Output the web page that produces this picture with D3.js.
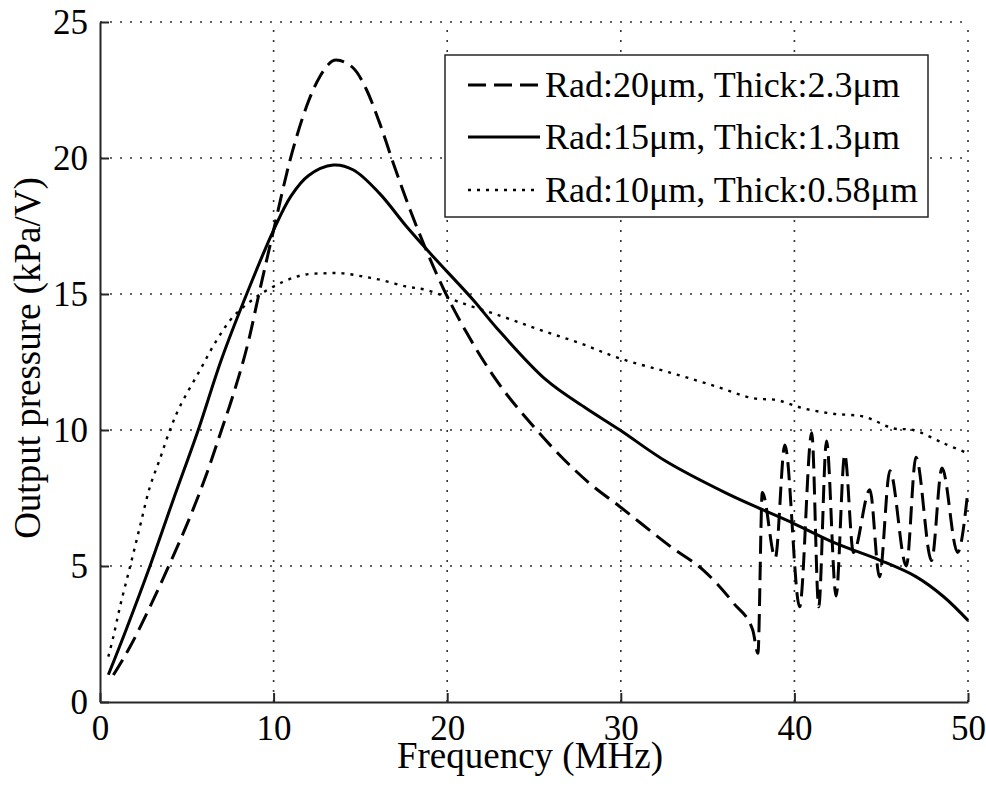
<!DOCTYPE html>
<html>
<head>
<meta charset="utf-8">
<script src="https://cdn.jsdelivr.net/npm/d3@7"></script>
<style>
  body { margin: 0; background: #fff; }
  text { font-family: "Liberation Serif", "Times New Roman", serif; fill: #000; }
</style>
</head>
<body>
<div id="chart"></div>
<script>
// values (frequency in MHz, pressure in kPa/V)
var freqDash = [0.77, 1.73, 2.88, 4.03, 4.99, 6.15, 7.0, 7.6, 8.64, 9.12, 10.0, 10.94, 11.9, 12.67, 13.6, 14.6, 15.36, 16.1, 16.9, 17.86, 18.8, 19.78, 21.1, 22.65, 25.15, 28.2, 29.95, 33.0, 34.75, 36.5, 37.6, 37.9, 38.15, 38.9, 39.45, 40.3, 41.0, 41.4, 41.85, 42.4, 42.9, 43.4, 44.35, 44.9, 45.5, 46.45, 47.0, 47.9, 48.5, 49.4, 50.0];
var valDash  = [0.99, 2.03, 3.5, 5.1, 6.5, 8.4, 10.0, 11.15, 13.5, 14.9, 17.35, 19.9, 21.9, 23.0, 23.6, 23.3, 22.5, 21.3, 19.8, 18.1, 16.6, 15.2, 13.6, 12.0, 10.0, 8.04, 7.18, 5.65, 4.85, 3.63, 2.65, 1.79, 7.7, 5.3, 9.45, 3.5, 9.9, 3.5, 9.6, 3.9, 9.1, 5.5, 7.8, 4.6, 8.5, 5.0, 9.0, 5.2, 8.6, 5.5, 7.8];

var freqSolid = [0.48, 1.5, 2.88, 4.2, 5.66, 7.0, 8.45, 10.0, 11.0, 12.0, 13.44, 14.6, 16.1, 17.67, 19.2, 21.5, 22.85, 25.7, 28.0, 29.95, 32.6, 36.1, 38.2, 39.94, 42.4, 44.9, 47.0, 48.6, 50.0];
var valSolid  = [1.0, 2.65, 5.0, 7.4, 10.0, 12.6, 15.0, 17.35, 18.6, 19.35, 19.74, 19.56, 18.7, 17.47, 16.37, 14.78, 13.75, 11.84, 10.8, 10.0, 8.85, 7.67, 7.06, 6.57, 5.83, 5.22, 4.61, 3.87, 3.0];

var freqDot = [0.48, 0.77, 1.15, 1.73, 2.3, 2.88, 3.46, 4.03, 4.6, 5.76, 6.72, 7.68, 9.03, 10.56, 11.7, 12.87, 14.0, 15.17, 16.3, 17.67, 18.8, 20.7, 23.2, 25.35, 27.65, 29.95, 33.0, 35.5, 37.6, 39.0, 40.5, 42.2, 44.0, 45.7, 46.85, 48.6, 50.0];
var valDot  = [1.67, 2.4, 3.5, 4.97, 6.45, 7.92, 8.95, 10.0, 10.86, 12.2, 13.3, 14.17, 14.9, 15.45, 15.7, 15.76, 15.76, 15.64, 15.5, 15.27, 15.15, 14.7, 14.17, 13.68, 13.19, 12.63, 12.08, 11.6, 11.17, 11.1, 10.8, 10.6, 10.49, 10.06, 10.0, 9.51, 9.14];

var xTicks = [0, 10, 20, 30, 40, 50];
var yTicks = [0, 5, 10, 15, 20, 25];
var legendLabels = ["Rad:20\u03bcm, Thick:2.3\u03bcm", "Rad:15\u03bcm, Thick:1.3\u03bcm", "Rad:10\u03bcm, Thick:0.58\u03bcm"];

var width = 986, height = 791;
var tickFont = 35, labelFont = 37;

var svg = d3.select("#chart").append("svg")
    .attr("width", width)
    .attr("height", height);

var x = d3.scaleLinear().domain([0, 50]).range([100, 968]);
var y = d3.scaleLinear().domain([0, 25]).range([702, 22]);

//dotted grid
var grid = svg.append("g")
    .attr("stroke", "#333")
    .attr("stroke-width", 1.6)
    .attr("stroke-dasharray", "2,8");

grid.selectAll(".gx").data(xTicks.slice(1)).enter().append("line")
    .attr("x1", function(d) { return x(d); })
    .attr("x2", function(d) { return x(d); })
    .attr("y1", y(0))
    .attr("y2", y(25));

grid.selectAll(".gy").data(yTicks.slice(1)).enter().append("line")
    .attr("y1", function(d) { return y(d); })
    .attr("y2", function(d) { return y(d); })
    .attr("x1", x(0))
    .attr("x2", x(50));

//axes, ticks pointing inwards
var xAxis = svg.append("g")
    .attr("transform", "translate(0," + y(0) + ")")
    .call(d3.axisBottom(x).tickValues(xTicks).tickSizeInner(-9).tickSizeOuter(0).tickPadding(13));

var yAxis = svg.append("g")
    .attr("transform", "translate(" + x(0) + ",0)")
    .call(d3.axisLeft(y).tickValues(yTicks).tickSizeInner(-9).tickSizeOuter(0).tickPadding(12));

[xAxis, yAxis].forEach(function(a) {
    a.select(".domain").attr("stroke", "#262626").attr("stroke-width", 2);
    a.selectAll(".tick line").attr("stroke", "#262626").attr("stroke-width", 2);
    a.selectAll(".tick text")
        .style("font-family", "'Liberation Serif', 'Times New Roman', serif")
        .style("font-size", tickFont + "px")
        .attr("fill", "#000");
});

//curves
var smooth = d3.line()
    .x(function(d) { return x(d[0]); })
    .y(function(d) { return y(d[1]); })
    .curve(d3.curveCatmullRom.alpha(0.5));

var sharp = d3.line()
    .x(function(d) { return x(d[0]); })
    .y(function(d) { return y(d[1]); })
    .curve(d3.curveMonotoneX);

var series = [
    {f: freqDash, v: valDash, dash: "18,8", w: 3, gen: sharp},
    {f: freqSolid, v: valSolid, dash: null, w: 3, gen: smooth},
    {f: freqDot, v: valDot, dash: "3,6", w: 2.4, gen: smooth}
];

series.forEach(function(s) {
    var pts = d3.zip(s.f, s.v);
    svg.append("path")
        .datum(pts)
        .attr("fill", "none")
        .attr("stroke", "#000")
        .attr("stroke-width", s.w)
        .attr("stroke-dasharray", s.dash)
        .attr("d", s.gen);
});

//axis labels
svg.append("text")
    .attr("x", 530)
    .attr("y", 768)
    .attr("text-anchor", "middle")
    .style("font-size", labelFont + "px")
    .text("Frequency (MHz)");

svg.append("text")
    .attr("transform", "translate(40,358) rotate(-90)")
    .attr("text-anchor", "middle")
    .style("font-size", labelFont + "px")
    .text("Output pressure (kPa/V)");

//legend
var legend = svg.append("g");
legend.append("rect")
    .attr("x", 445)
    .attr("y", 55)
    .attr("width", 483)
    .attr("height", 162)
    .attr("fill", "#fff")
    .attr("stroke", "#262626")
    .attr("stroke-width", 1.5);

var rowY = [85, 137, 190];
series.forEach(function(s, i) {
    legend.append("line")
        .attr("x1", 468)
        .attr("x2", 540)
        .attr("y1", rowY[i])
        .attr("y2", rowY[i])
        .attr("stroke", "#000")
        .attr("stroke-width", s.w)
        .attr("stroke-dasharray", s.dash);
    legend.append("text")
        .attr("x", 545)
        .attr("y", rowY[i] + 12)
        .style("font-size", "36px")
        .text(legendLabels[i]);
});
</script>
</body>
</html>
